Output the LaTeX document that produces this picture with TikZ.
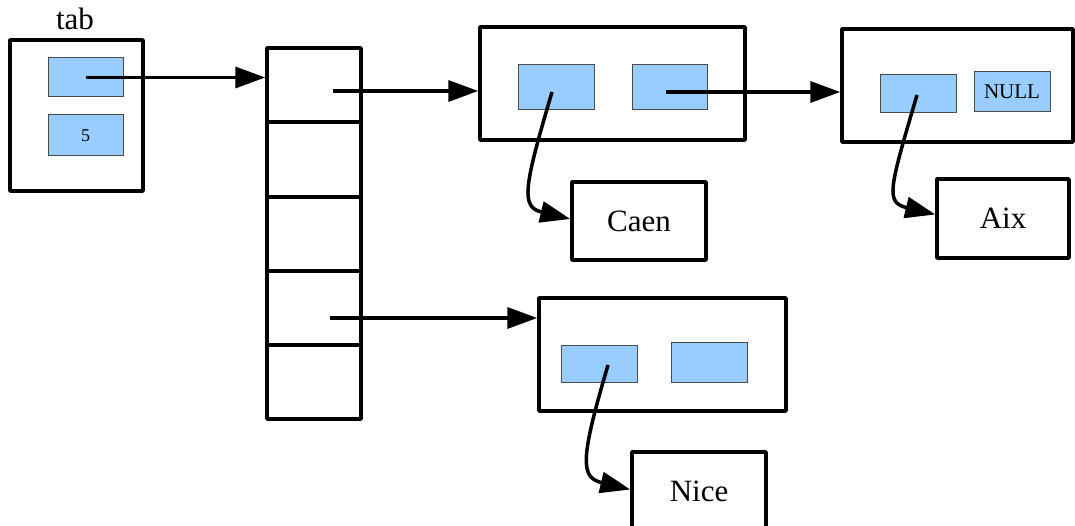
\documentclass[tikz,border=0pt]{standalone}
\usepackage{fontspec}
\setmainfont{Liberation Serif}
\usetikzlibrary{arrows.meta,calc}
\definecolor{cellblue}{HTML}{99CCFF}
\definecolor{cellline}{HTML}{4A4A4A}
\tikzset{
  frame/.style={draw=black, line width=3.5pt, inner sep=0pt, line join=round},
  field/.style={draw=cellline, fill=cellblue, line width=1pt, inner sep=0pt},
  ptr/.style={line width=3.5pt, line join=miter,
    -{Triangle[length=30pt,width=21pt]}},
  big/.style={font=\fontsize{31pt}{36pt}\selectfont},
}
\begin{document}
\begin{tikzpicture}[x=1pt,y=-1pt]
\useasboundingbox (0,0) rectangle (1075,526);

% the variable tab: pointer to the array and its size
\node[frame, minimum width=133pt, minimum height=151pt] (tab) at (76.5,115.5) {};
\node[big] (tablabel) at (75,19) {tab};
\node[field, minimum width=75pt, minimum height=39pt] (tabp) at (85.5,77.5) {};
\node[field, minimum width=75pt, minimum height=41pt,
      font=\fontsize{18pt}{20pt}\selectfont] (tabn) at (85.5,135.5) {5};

% the array of bucket heads
\foreach \i/\y in {1/85,2/159.5,3/234,4/308,5/382}
  \node[frame, minimum width=94pt, minimum height=74pt] (cell\i) at (314,\y) {};

% list cells
\node[frame, minimum width=265pt, minimum height=113pt] (n1) at (612.5,83.5) {};
\node[field, minimum width=76pt, minimum height=45pt] (n1a) at (556,87.5) {};
\node[field, minimum width=75pt, minimum height=45pt] (n1b) at (669.5,87.5) {};

\node[frame, minimum width=231pt, minimum height=113pt] (n2) at (957.5,85.5) {};
\node[field, minimum width=76pt, minimum height=38pt] (n2a) at (918,94) {};
\node[field, minimum width=76pt, minimum height=40pt,
      font=\fontsize{21pt}{24pt}\selectfont] (n2b) at (1012,92) {NULL};

\node[frame, minimum width=247pt, minimum height=113pt] (n3) at (662.5,354.5) {};
\node[field, minimum width=76pt, minimum height=37pt] (n3a) at (599,363.5) {};
\node[field, minimum width=76pt, minimum height=40pt] (n3b) at (709,362) {};

% the keys
\node[frame, big, minimum width=134pt, minimum height=78pt] (caen) at (639,221) {Caen};
\node[frame, big, minimum width=132pt, minimum height=79pt] (aix) at (1003,218.5) {Aix};
\node[frame, big, minimum width=134pt, minimum height=79pt] (nice) at (699,491.5) {Nice};

% pointers
\draw[ptr] (tabp.center) -- (tabp.center -| cell1.west);
\coordinate (c1p) at ([shift={(19,6)}]cell1.center);
\draw[ptr] (c1p) -- (c1p -| n1.west);
\coordinate (c4p) at ([shift={(16,10)}]cell4.center);
\draw[ptr] (c4p) -- (c4p -| n3.west);
\coordinate (n1bp) at ([shift={(-3.5,4.5)}]n1b.center);
\draw[ptr] (n1bp) -- (n1bp -| n2.west);

\draw[ptr] ([shift={(-4,4.5)}]n1a.center) .. controls +(-28,95) and +(-50,-12) .. ([yshift=2]caen.west);
\draw[ptr] ([shift={(-1,1)}]n2a.center) .. controls +(-28,95) and +(-50,-12) .. ([yshift=4]aix.west);
\draw[ptr] ([shift={(9,1.5)}]n3a.center) .. controls +(-28,95) and +(-50,-12) .. ([yshift=2]nice.west);
\end{tikzpicture}
\end{document}
